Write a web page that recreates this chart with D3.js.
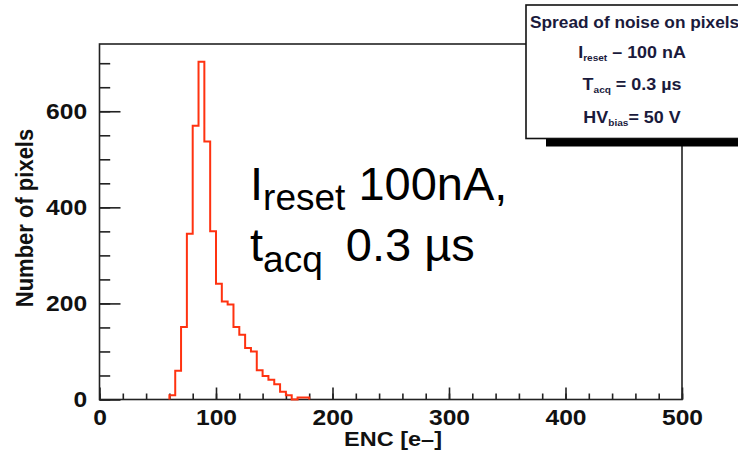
<!DOCTYPE html>
<html>
<head>
<meta charset="utf-8">
<script src="https://cdn.jsdelivr.net/npm/d3@7"></script>
<style>
  body { margin: 0; background: #fff; }
  svg { display: block; }
  text { font-family: "Liberation Sans", Arial, sans-serif; }
</style>
</head>
<body>
<div id="chart"></div>
<script>
// histogram of ENC, bins 5 e- wide
var binLow = [60, 65, 70, 75, 80, 85, 90, 95, 100, 105, 110, 115, 120, 125, 130, 135, 140, 145, 150, 155, 160, 165, 170, 175];
var counts = [9, 60, 151, 345, 570, 703, 537, 350, 241, 204, 198, 151, 135, 107, 100, 61, 49, 41, 32, 16, 9, 0, 4, 4];
var binWidth = 5;

var xMajor = [0, 100, 200, 300, 400, 500];
var xMinor = d3.range(0, 501, 20);
var yMajor = [0, 200, 400, 600];
var yMinor = d3.range(0, 701, 50);

var legendLines = [
    {main: "I", sub: "reset", rest: " \u2013 100 nA"},
    {main: "T", sub: "acq", rest: " = 0.3 \u00b5s"},
    {main: "HV", sub: "bias", rest: "= 50 V"}
];

var W = 738, H = 457;
var pLeft = 99.5, pRight = 682, pTop = 44, pBottom = 399.5;
var sx = 1.12; // text looks stretched sideways

var svg = d3.select("#chart").append("svg")
    .attr("width", W)
    .attr("height", H);

var x = d3.scaleLinear().domain([0, 500]).range([pLeft, pRight]);
var y = d3.scaleLinear().domain([0, 740]).range([pBottom, pTop]);

// frame
svg.append("rect")
    .attr("x", pLeft).attr("y", pTop)
    .attr("width", pRight - pLeft).attr("height", pBottom - pTop)
    .attr("fill", "none").attr("stroke", "#222").attr("stroke-width", 1.6);

// x axis
var gx = svg.append("g").attr("transform", "translate(0," + pBottom + ")");
gx.call(d3.axisBottom(x).tickValues(xMinor).tickSize(-6).tickFormat(""));
var gx2 = svg.append("g").attr("transform", "translate(0," + pBottom + ")");
gx2.call(d3.axisBottom(x).tickValues(xMajor).tickSize(-12).tickPadding(10).tickFormat(d3.format("d")));
svg.selectAll(".domain").remove();
gx2.selectAll("text")
    .attr("font-size", 22).attr("font-weight", "bold").attr("fill", "#111")
    .attr("transform", "scale(" + sx + ",1)");

// y axis
var gy = svg.append("g").attr("transform", "translate(" + pLeft + ",0)");
gy.call(d3.axisLeft(y).tickValues(yMinor).tickSize(-10.7).tickFormat(""));
var gy2 = svg.append("g").attr("transform", "translate(" + pLeft + ",0)");
gy2.call(d3.axisLeft(y).tickValues(yMajor).tickSize(-21).tickPadding(11).tickFormat(d3.format("d")));
svg.selectAll(".domain").remove();
gy2.selectAll("text")
    .attr("font-size", 22).attr("font-weight", "bold").attr("fill", "#111")
    .attr("transform", "scale(" + sx + ",1)");
svg.selectAll(".tick line").attr("stroke", "#222").attr("stroke-width", 1.6);

// axis titles
svg.append("text")
    .attr("transform", "translate(393,446) scale(" + sx + ",1)")
    .attr("text-anchor", "middle")
    .attr("font-size", 21).attr("font-weight", "bold").attr("fill", "#111")
    .text("ENC [e\u2013]");

svg.append("text")
    .attr("transform", "translate(33,218) scale(" + sx + ",1) rotate(-90)")
    .attr("text-anchor", "middle")
    .attr("font-size", 22).attr("font-weight", "bold").attr("fill", "#111")
    .text("Number of pixels");

// histogram outline
var pts = [[binLow[0], 0]];
binLow.forEach(function(b, i) { pts.push([b, counts[i]]); });
pts.push([binLow[binLow.length - 1] + binWidth, 0]);

var line = d3.line()
    .x(function(d) { return x(d[0]); })
    .y(function(d) { return y(d[1]); })
    .curve(d3.curveStepAfter);

svg.append("path")
    .attr("d", line(pts))
    .attr("fill", "none")
    .attr("stroke", "#ff3210")
    .attr("stroke-width", 2);

// annotation
var ann = svg.append("g").attr("fill", "#000");
var t1 = ann.append("text").attr("x", 250).attr("y", 200).attr("font-size", 47);
t1.append("tspan").text("I");
t1.append("tspan").attr("font-size", 37).attr("dy", 10).text("reset");
t1.append("tspan").attr("dy", -10).text(" 100nA,");
var t2 = ann.append("text").attr("x", 250).attr("y", 261).attr("font-size", 47);
t2.append("tspan").text("t");
t2.append("tspan").attr("font-size", 37).attr("dy", 11).text("acq");
t2.append("tspan").attr("dy", -11).attr("dx", 10).text(" 0.3 \u00b5s");

// legend box with shadow
svg.append("rect")
    .attr("x", 546).attr("y", 12).attr("width", 260).attr("height", 134.5)
    .attr("fill", "#000");
svg.append("rect")
    .attr("x", 526).attr("y", 5).attr("width", 260).attr("height", 133.5)
    .attr("fill", "#fff").attr("stroke", "#111").attr("stroke-width", 1.6);

svg.append("text")
    .attr("transform", "translate(530,28) scale(1.08,1)")
    .attr("font-size", 16).attr("font-weight", "bold").attr("fill", "#1a1a3c")
    .text("Spread of noise on pixels");

var legY = [58, 90, 123];
legendLines.forEach(function(l, i) {
    var t = svg.append("text")
        .attr("transform", "translate(632," + legY[i] + ") scale(" + sx + ",1)")
        .attr("text-anchor", "middle")
        .attr("font-size", 16).attr("font-weight", "bold").attr("fill", "#1a1a3c");
    t.append("tspan").text(l.main);
    t.append("tspan").attr("font-size", 9).attr("dy", 3).text(l.sub);
    t.append("tspan").attr("dy", -3).text(l.rest);
});
</script>
</body>
</html>
